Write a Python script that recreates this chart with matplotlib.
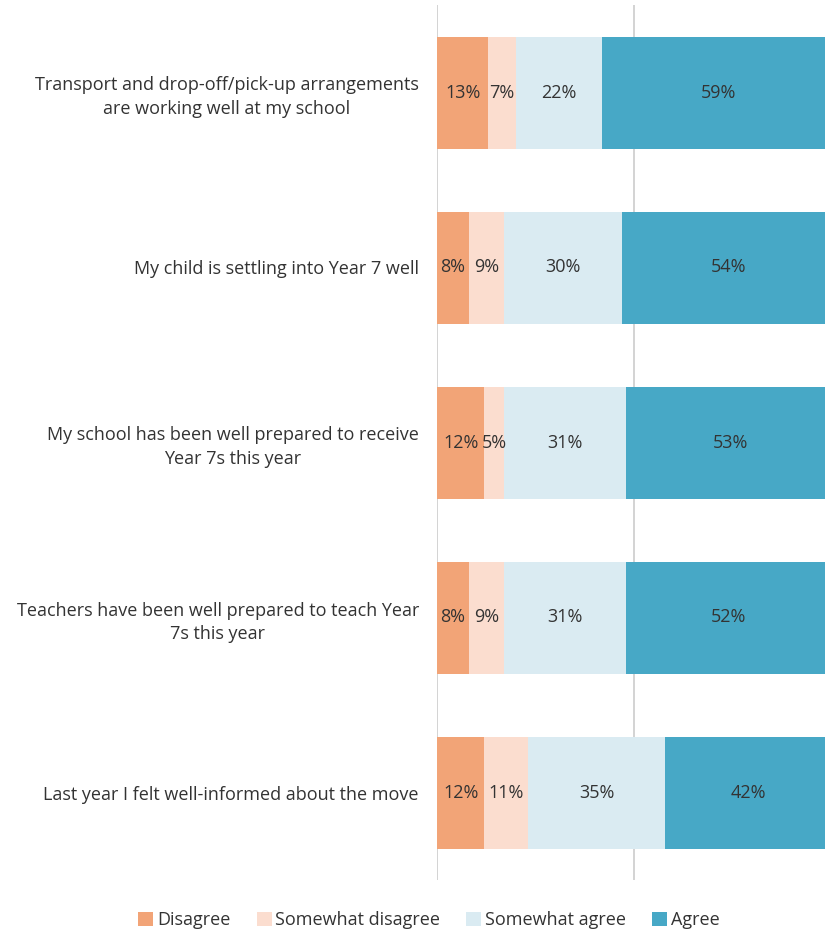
import matplotlib.pyplot as plt
import numpy as np

plt.rcParams['font.family'] = ['Open Sans', 'DejaVu Sans']

# Survey statements (top to bottom) and response shares (%)
statements = [
    'Transport and drop-off/pick-up arrangements\nare working well at my school',
    'My child is settling into Year 7 well',
    'My school has been well prepared to receive\nYear 7s this year',
    'Teachers have been well prepared to teach Year\n7s this year',
    'Last year I felt well-informed about the move',
]
disagree = [13, 8, 12, 8, 12]
somewhat_disagree = [7, 9, 5, 9, 11]
somewhat_agree = [22, 30, 31, 31, 35]
agree = [59, 54, 53, 52, 42]

series_names = ['Disagree', 'Somewhat disagree', 'Somewhat agree', 'Agree']
colors = ['#F2A477', '#FBDDCF', '#DAEBF2', '#47A8C6']

fig = plt.figure(figsize=(8.25, 9.32), dpi=100)
ax = fig.add_axes([437 / 825, 52 / 932, 388 / 825, 875 / 932])

y = np.arange(len(statements))
left = np.zeros(len(statements))
for name, vals, col in zip(series_names,
                           [disagree, somewhat_disagree, somewhat_agree, agree],
                           colors):
    vals = np.array(vals, dtype=float)
    ax.barh(y, vals, left=left, height=0.64, color=col, label=name, zorder=2)
    for yi, l, v in zip(y, left, vals):
        ax.text(l + v / 2, yi, f'{int(v)}%', ha='center', va='center',
                fontsize=13, color='#333333', zorder=3)
    left += vals

ax.set_xlim(0, 98.5)
ax.set_ylim(len(statements) - 0.5, -0.5)

# vertical gridlines at 0 and 50
for gx in [0, 50]:
    ax.axvline(gx, color='#D0D0D0', linewidth=1.3, zorder=1)

for s in ax.spines.values():
    s.set_visible(False)
ax.set_xticks([])
ax.set_yticks(y)
ax.set_yticklabels(statements, fontsize=13, color='#333333',
                   multialignment='center')
for t in ax.get_yticklabels():
    t.set_linespacing(1.4)
ax.tick_params(axis='y', length=0, pad=13)

handles, labels = ax.get_legend_handles_labels()
fig.legend(handles, labels, loc='center', bbox_to_anchor=(0.52, 1 - 920 / 932),
           ncol=4, frameon=False, fontsize=13, handlelength=0.83,
           handleheight=0.83, handletextpad=0.2, columnspacing=1.45,
           labelcolor='#333333')

plt.savefig('out.png', dpi=100)
